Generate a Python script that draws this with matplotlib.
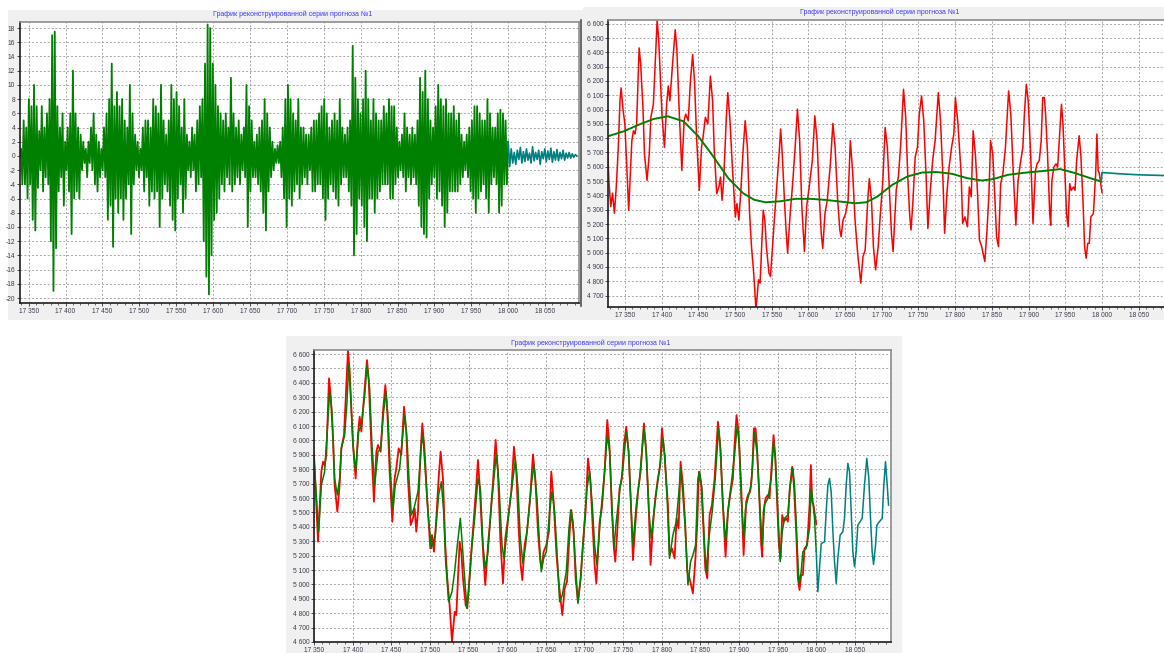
import numpy as np
import matplotlib
matplotlib.use('Agg')
import matplotlib.pyplot as plt
from matplotlib.patches import Rectangle
from matplotlib.lines import Line2D
from matplotlib.ticker import MultipleLocator, FuncFormatter

plt.rcParams['font.family'] = ['Liberation Sans', 'DejaVu Sans']
plt.rcParams['axes.unicode_minus'] = False

title = 'График реконструированной серии прогноза №1'

# --- panel 1: high-frequency component (green) + its forecast (teal)
hf_start, hf_end = 17338, 18000
hf_vals = [
    0, 1, -4, 5, -4, 4, -6, 8, -4, 7,
    -9, 10, -10.5, 7, -4.5, 3.5, -2, 7, -5, 4,
    -3, 6, -4, 8, -12, 17, -19, 17.5, -13, 7,
    -5, 4, -3, 6, -7, 2, -2, 4, -5, 6,
    -11, 12, -6, 6, -5, 4, -6, 3, -2, 2,
    -1, 1, -3, 2, -1, 4, -2, 6, -4, 3,
    -5, 2, -3, 1, -2, 4, -3, 6, -9, 8,
    -7, 13, -12.8, 7, -6, 9, -8, 7, -6, 8,
    -9, 5, -6, 4, -4, 10, -11, 6, -4, 3,
    -2, 2, -3, 1, -2, 4, -5, 5, -3, 5,
    -7, 4, -5, 8, -6, 7, -5, 6, -10, 10,
    -6, 5, -4, 3, -5, 5, -7, 10, -9, 8,
    -10.5, 9, -6, 7, -4, 4, -8, 8, -6, 3,
    -2, 2, -3, 4, -2, 3, -5, 5, -4, 7,
    -3, 8, -12, 13, -17, 18.5, -19.5, 18, -14, 13,
    -9, 10, -8, 7, -6, 6, -4, 5, -5, 6,
    -3, 4, -4, 11, -5, 6, -4, 4, -3, 5,
    -4, 3, -2, 4, -3, 10, -10, 7, -5, 5,
    -3, 2, -3, 3, -4, 4, -5, 5, -8, 8,
    -10.5, 6, -5, 4, -3, 2, -2, 1, -1, 1.5,
    -1, 2, -3, 4, -6, 8, -10, 10, -6, 8,
    -7, 6, -5, 5, -4, 8, -6, 4, -4, 4,
    -3, 3, -4, 3, -2, 4, -5, 5, -5, 5,
    -4, 6, -4, 7, -6, 8, -9, 6, -6, 4,
    -4, 5, -5, 6, -6, 5, -7, 8, -4, 4,
    -3, 3, -3, 4, -5, 5, -7, 15.5, -14, 11,
    -11, 8, -6, 6, -7, 8, -10, 12, -12, 8,
    -6, 5, -6, 8, -8, 6, -6, 5, -5, 5,
    -4, 7, -4, 6, -4, 8, -6, 7, -6, 7,
    -4, 4, -3, 2, -2, 3, -3, 6, -5, 4,
    -3, 3, -4, 4, -3, 3, -4, 5, -7, 11,
    -10, 9, -11, 12, -11.5, 8, -6, 5, -4, 4,
    -3, 7, -6, 10, -5, 8, -7, 7, -10, 8,
    -8, 6, -5, 6, -5, 7, -5, 5, -5, 6,
    -4, 3, -3, 2, -2, 3, -3, 4, -5, 5,
    -6, 7, -8, 7, -6, 6, -5, 5, -4, 5,
    -6, 8, -8, 6, -4, 4, -3, 4, -4, 6,
    -8, 6.5, -7, 6, -4, 5, -4, 2,
]
hf_fc_start, hf_fc_end = 18000, 18093
hf_fc_vals = [
    2, -1.5, 1, -1, 0.5, -1.2, 0.8, -0.5, 1.2, -1,
    0.6, -0.8, 1, -0.6, 0.4, -1, 1.3, -0.7, 0.5, -0.5,
    0.8, -1.2, 0.6, -0.4, 1, -0.8, 0.7, -0.5, 1.1, -0.9,
    0.6, -0.6, 0.9, -0.7, 0.5, -0.4, 0.8, -0.6, 0.4, -0.3,
    0.5, -0.3, 0.3, -0.2, 0.2, 0,
]

# --- original series (red)
red = [
    (17326.6, 5754), (17328.1, 5509), (17330.7, 5322), (17333.2, 5415), (17335.8, 5275),
    (17338.3, 5462), (17340.9, 5719), (17343.4, 6070), (17344.9, 6151), (17347.5, 5999),
    (17350.0, 5899), (17355.2, 5297), (17359.5, 5783), (17361.7, 5852), (17363.8, 5829),
    (17366.0, 5899), (17369.4, 6431), (17371.6, 6315), (17374.6, 6014), (17376.7, 5690),
    (17380.2, 5505), (17383.2, 5690), (17385.4, 5945), (17388.8, 6037), (17391.8, 6385),
    (17394.0, 6628), (17396.2, 6477), (17400.5, 5968), (17403.9, 5736), (17406.9, 6037),
    (17409.1, 6165), (17411.3, 6061), (17415.6, 6362), (17418.6, 6558), (17420.7, 6431),
    (17424.2, 5968), (17427.6, 5574), (17430.7, 5922), (17432.8, 5968), (17436.3, 5922),
    (17439.3, 6199), (17442.3, 6385), (17444.9, 6199), (17447.9, 5783), (17451.4, 5436),
    (17454.4, 5736), (17456.5, 5806), (17459.6, 5945), (17463.0, 5899), (17466.5, 6234),
    (17469.5, 6061), (17471.6, 5736), (17475.1, 5412), (17478.1, 5459), (17480.3, 5528),
    (17482.4, 5366), (17484.6, 5505), (17488.0, 5922), (17490.2, 6118), (17493.2, 5922),
    (17496.2, 5621), (17500.5, 5250), (17502.7, 5343), (17505.3, 5227), (17508.3, 5459),
    (17511.3, 5736), (17513.9, 5922), (17516.9, 5736), (17519.9, 5273), (17522.5, 5042),
    (17525.5, 4857), (17528.6, 4602), (17532.1, 4810), (17534.2, 4787), (17536.4, 5042),
    (17538.5, 5297), (17540.7, 5227), (17542.8, 5042), (17546.3, 4857), (17548.4, 4834),
    (17553.6, 5227), (17556.6, 5436), (17560.1, 5690), (17562.2, 5864), (17564.4, 5690),
    (17567.4, 5366), (17569.6, 5158), (17571.7, 4996), (17575.2, 5273), (17578.2, 5459),
    (17581.7, 5713), (17585.1, 6003), (17588.1, 5783), (17591.1, 5320), (17594.6, 5007),
    (17597.6, 5320), (17601.1, 5459), (17605.4, 5644), (17608.8, 5956), (17611.9, 5783),
    (17614.9, 5389), (17617.5, 5135), (17619.6, 5030), (17622.6, 5273), (17625.7, 5366),
    (17630.0, 5621), (17633.4, 5903), (17636.4, 5736), (17639.9, 5366), (17642.9, 5158),
    (17644.6, 5111), (17647.2, 5227), (17650.7, 5273), (17654.1, 5366), (17657.1, 5783),
    (17660.2, 5574), (17663.6, 5227), (17667.1, 4996), (17671.4, 4787), (17674.4, 4973),
    (17677.4, 5019), (17680.9, 5366), (17683.0, 5517), (17686.0, 5366), (17688.6, 5042),
    (17691.6, 4880), (17695.1, 5042), (17698.1, 5273), (17701.5, 5505), (17704.6, 5875),
    (17707.6, 5736), (17711.0, 5366), (17713.2, 5135), (17715.4, 5007), (17719.7, 5436),
    (17722.7, 5534), (17726.1, 5783), (17729.6, 6142), (17732.6, 5945), (17735.6, 5505),
    (17738.2, 5250), (17739.9, 5158), (17742.5, 5366), (17745.5, 5667), (17748.6, 5736),
    (17751.1, 5968), (17754.2, 6095), (17757.2, 5922), (17760.6, 5505), (17762.8, 5169),
    (17765.8, 5412), (17769.3, 5644), (17772.7, 5783), (17777.0, 6118), (17780.0, 5922),
    (17783.1, 5551), (17785.6, 5135), (17788.7, 5412), (17791.7, 5598), (17795.1, 5736),
    (17798.2, 5829), (17800.3, 6084), (17803.8, 5898), (17808.1, 5551), (17810.2, 5204),
    (17813.3, 5250), (17816.7, 5181), (17819.3, 5459), (17821.9, 5390), (17824.5, 5852),
    (17827.5, 5690), (17830.5, 5412), (17833.1, 5088), (17836.1, 5042), (17840.4, 4938),
    (17843.4, 5158), (17846.0, 5412), (17848.2, 5783), (17851.2, 5690), (17854.2, 5366),
    (17856.4, 5111), (17859.0, 5042), (17862.0, 5482), (17865.0, 5551), (17868.5, 5736),
    (17872.8, 6130), (17875.8, 5968), (17879.2, 5551), (17882.7, 5192), (17885.7, 5505),
    (17888.7, 5621), (17892.2, 5736), (17894.3, 5968), (17896.9, 6176), (17899.5, 6061),
    (17903.0, 5667), (17906.0, 5204), (17909.4, 5574), (17911.6, 5621), (17914.6, 5644),
    (17917.2, 5783), (17919.3, 6084), (17921.5, 6084), (17923.2, 5968), (17925.8, 5690),
    (17928.8, 5273), (17930.1, 5192), (17931.8, 5505), (17934.4, 5598), (17937.4, 5621),
    (17939.6, 5598), (17941.8, 5783), (17944.8, 6037), (17946.9, 5898), (17949.5, 5551),
    (17951.7, 5273), (17953.8, 5181), (17956.0, 5482), (17958.2, 5436), (17961.2, 5459),
    (17963.3, 5436), (17965.5, 5644), (17968.9, 5817), (17971.1, 5690), (17974.1, 5366),
    (17976.3, 5042), (17978.4, 4961), (17980.6, 5065), (17982.7, 5065), (17984.9, 5250),
    (17988.3, 5273), (17991.4, 5551), (17993.1, 5829), (17994.8, 5574), (17996.5, 5551),
    (18000.0, 5420),
]

# --- reconstructed series (green, bottom panel)
recon = [
    (17350.0, 5875), (17356.0, 5366), (17359.5, 5690), (17363.8, 5783), (17366.0, 5968),
    (17370.3, 6338), (17373.3, 6199), (17376.7, 5736), (17380.2, 5621), (17383.2, 5736),
    (17385.4, 5945), (17389.7, 6037), (17392.7, 6269), (17394.9, 6524), (17397.4, 6315),
    (17400.5, 5968), (17403.9, 5783), (17407.8, 6061), (17411.3, 6107), (17415.6, 6315),
    (17418.6, 6524), (17422.0, 6362), (17425.0, 5968), (17428.5, 5690), (17432.8, 5922),
    (17436.3, 5945), (17440.1, 6199), (17443.2, 6338), (17445.8, 6153), (17448.8, 5783),
    (17452.2, 5528), (17455.2, 5690), (17460.9, 5806), (17465.2, 6061), (17467.3, 6176),
    (17470.3, 6014), (17472.9, 5736), (17475.9, 5482), (17479.4, 5528), (17484.6, 5644),
    (17488.9, 5968), (17491.0, 6037), (17494.1, 5783), (17497.5, 5505), (17501.8, 5250),
    (17507.0, 5343), (17511.3, 5621), (17514.8, 5713), (17517.8, 5505), (17520.4, 5158),
    (17524.2, 4880), (17528.6, 4949), (17532.0, 5088), (17535.5, 5273), (17539.4, 5459),
    (17542.0, 5273), (17545.0, 5042), (17548.0, 4834), (17551.5, 5042), (17554.5, 5273),
    (17557.9, 5459), (17562.2, 5736), (17565.3, 5667), (17568.7, 5273), (17571.7, 5111),
    (17575.2, 5227), (17579.5, 5551), (17586.0, 5910), (17589.4, 5690), (17593.3, 5273),
    (17595.9, 5181), (17598.9, 5320), (17603.2, 5551), (17607.5, 5736), (17610.6, 5864),
    (17614.0, 5667), (17617.0, 5320), (17620.5, 5146), (17623.9, 5273), (17628.2, 5505),
    (17631.3, 5690), (17634.7, 5829), (17638.6, 5598), (17642.0, 5273), (17644.2, 5088),
    (17647.2, 5181), (17650.7, 5227), (17655.0, 5505), (17658.0, 5644), (17661.4, 5505),
    (17664.5, 5227), (17667.9, 4880), (17671.4, 4926), (17676.5, 5088), (17680.0, 5389),
    (17682.2, 5517), (17685.2, 5436), (17688.2, 5158), (17691.6, 4868), (17695.1, 5042),
    (17699.4, 5389), (17703.3, 5667), (17706.7, 5783), (17710.2, 5551), (17713.2, 5273),
    (17716.2, 5135), (17721.0, 5482), (17726.1, 5783), (17729.6, 6037), (17732.6, 5922),
    (17735.6, 5551), (17738.2, 5250), (17741.2, 5436), (17745.5, 5644), (17749.8, 5806),
    (17754.2, 6061), (17757.2, 5922), (17760.6, 5505), (17762.8, 5273), (17767.1, 5551),
    (17771.4, 5736), (17777.0, 6084), (17780.0, 5922), (17783.5, 5505), (17786.5, 5320),
    (17790.0, 5505), (17794.3, 5690), (17797.3, 5806), (17801.6, 6014), (17803.8, 5898),
    (17807.2, 5574), (17810.2, 5181), (17814.5, 5343), (17818.9, 5436), (17822.3, 5644),
    (17824.5, 5806), (17827.5, 5621), (17830.5, 5389), (17834.0, 4996), (17837.4, 5158),
    (17840.4, 5204), (17843.9, 5273), (17846.9, 5736), (17849.1, 5783), (17852.1, 5667),
    (17855.5, 5273), (17857.7, 5088), (17861.1, 5320), (17865.4, 5505), (17869.3, 5736),
    (17873.6, 6084), (17876.2, 5922), (17879.2, 5551), (17882.7, 5297), (17886.6, 5551),
    (17890.9, 5736), (17894.3, 5898), (17897.8, 6107), (17900.4, 5968), (17903.0, 5598),
    (17906.4, 5320), (17908.5, 5528), (17911.6, 5598), (17915.9, 5690), (17920.2, 6061),
    (17923.6, 5898), (17926.7, 5574), (17930.1, 5273), (17933.1, 5551), (17937.4, 5598),
    (17941.8, 5736), (17944.8, 5991), (17947.4, 5852), (17950.4, 5505), (17953.4, 5158),
    (17956.0, 5366), (17959.0, 5459), (17963.3, 5482), (17966.3, 5690), (17969.8, 5806),
    (17971.9, 5690), (17975.0, 5320), (17977.6, 5007), (17980.6, 5088), (17982.7, 5227),
    (17987.0, 5250), (17991.4, 5389), (17993.5, 5667), (17995.7, 5574), (17997.8, 5459),
    (18000.0, 5230),
]

# --- forecast of reconstruction (teal, bottom panel)
forecast = [
    (18000.0, 5230), (18002.1, 4949), (18006.5, 5284), (18010.8, 5296), (18012.9, 5505),
    (18015.1, 5690), (18017.2, 5736), (18019.4, 5644), (18021.6, 5366), (18023.7, 5158),
    (18025.9, 5007), (18028.0, 5181), (18031.0, 5343), (18034.5, 5366), (18036.6, 5459),
    (18038.8, 5690), (18041.0, 5841), (18043.1, 5783), (18045.3, 5505), (18047.4, 5227),
    (18049.6, 5123), (18051.7, 5227), (18053.9, 5412), (18056.9, 5436), (18059.5, 5459),
    (18062.5, 5690), (18065.5, 5875), (18068.1, 5736), (18070.3, 5459), (18072.4, 5227),
    (18074.2, 5139), (18076.8, 5273), (18078.5, 5412), (18081.9, 5436), (18085.4, 5459),
    (18087.5, 5690), (18089.7, 5852), (18091.9, 5690), (18093.6, 5551),
]

# --- trend component (green, top-right) and its forecast (teal)
trend = [
    (17326.6, 5813), (17348.5, 5848), (17368.8, 5894), (17389.1, 5934), (17408.4, 5953),
    (17429.8, 5918), (17450.1, 5813), (17470.4, 5672), (17490.8, 5521), (17511.1, 5415),
    (17526.3, 5369), (17541.6, 5352), (17561.9, 5359), (17582.2, 5376), (17602.6, 5376),
    (17622.9, 5369), (17643.2, 5357), (17663.6, 5345), (17678.8, 5352), (17694.0, 5392),
    (17714.4, 5474), (17734.7, 5532), (17755.0, 5560), (17775.4, 5563), (17795.7, 5551),
    (17816.0, 5521), (17836.4, 5504), (17851.6, 5514), (17871.9, 5544), (17897.3, 5560),
    (17922.7, 5572), (17943.0, 5584), (17963.3, 5556), (17983.7, 5521), (17998.9, 5497),
]
trend_fc = [(17998.9, 5497), (18000.0, 5560), (18024.4, 5551), (18049.9, 5544),
            (18084.0, 5539), (18095.0, 5538)]

W, H = 1164, 653
fig = plt.figure(figsize=(W / 100, H / 100), dpi=100, facecolor='white')


def px_box(l, t, r, b):
    return [l / W, 1 - b / H, (r - l) / W, (b - t) / H]


def panel_bg(l, t, r, b):
    x, y, w, h = px_box(l, t, r, b)
    fig.patches.append(Rectangle((x, y), w, h, transform=fig.transFigure,
                                 facecolor='#f0f0f0', edgecolor='none', zorder=-5))


panel_bg(8, 10, 590, 320)
panel_bg(583, 7, 1164, 320)
panel_bg(286, 336, 902, 653)

thousands = FuncFormatter(lambda v, p: f'{v:,.0f}'.replace(',', ' '))


def style(ax, xlim, ylim, ystep, right=True):
    ax.set_facecolor('white')
    ax.set_xlim(*xlim)
    ax.set_ylim(*ylim)
    ax.xaxis.set_major_locator(MultipleLocator(50))
    ax.xaxis.set_minor_locator(MultipleLocator(10))
    ax.yaxis.set_major_locator(MultipleLocator(ystep))
    ax.xaxis.set_major_formatter(thousands)
    ax.yaxis.set_major_formatter(thousands)
    ax.grid(True, which='major', color='#a6a6a6', linestyle=(0, (2, 2)), linewidth=0.7)
    ax.set_axisbelow(True)
    ax.tick_params(which='major', direction='out', length=2.2, width=0.6,
                   colors='#333333', labelcolor='#3c3c50', labelsize=4.8, pad=1.2)
    ax.tick_params(which='minor', direction='out', length=1.4, width=0.5, colors='#333333')
    for s in ('left', 'bottom'):
        ax.spines[s].set_color('#1e1e1e')
        ax.spines[s].set_linewidth(1.2)
    for s in ('top', 'right'):
        ax.spines[s].set_color('#8c8c8c')
        ax.spines[s].set_linewidth(1.2)
    if not right:
        ax.spines['right'].set_visible(False)


# panel 1
ax1 = fig.add_axes(px_box(20, 22, 579, 303))
style(ax1, (17338.3, 18096), (-20.7, 18.85), 2)
ax1.plot(np.linspace(hf_start, hf_end, len(hf_vals)), hf_vals, color='#008000', lw=1.3)
ax1.plot(np.linspace(hf_fc_start, hf_fc_end, len(hf_fc_vals)), hf_fc_vals,
         color='#008080', lw=1.2)
fig.text(293 / W, 1 - 14 / H, title, ha='center', va='center', fontsize=5, color='#3c3cff')

# panel 2
ax2 = fig.add_axes(px_box(608, 20, 1164, 307))
style(ax2, (17327, 18084.5), (4620, 6626), 100, right=False)
rx, ry = zip(*red)
ax2.plot(rx, ry, color='#ff0000', lw=1.1)
tx, ty = zip(*trend)
ax2.plot(tx, ty, color='#008000', lw=1.4)
fx, fy = zip(*trend_fc)
ax2.plot(fx, fy, color='#008080', lw=1.2)
fig.text(880 / W, 1 - 12 / H, title, ha='center', va='center', fontsize=5, color='#3c3cff')
fig.add_artist(Line2D([581 / W, 581 / W], [1 - 20 / H, 1 - 306 / H],
                      transform=fig.transFigure, color='#505050', lw=1.2))

# panel 3
ax3 = fig.add_axes(px_box(314, 350, 891, 642))
style(ax3, (17350, 18096.8), (4600, 6628), 100)
ax3.plot(rx, ry, color='#ff0000', lw=1.3)
cx, cy = zip(*recon)
ax3.plot(cx, cy, color='#008000', lw=1.1)
ox, oy = zip(*forecast)
ax3.plot(ox, oy, color='#008080', lw=1.1)
fig.text(591 / W, 1 - 343 / H, title, ha='center', va='center', fontsize=5, color='#3c3cff')

fig.savefig('out.png', dpi=100, facecolor='white')
